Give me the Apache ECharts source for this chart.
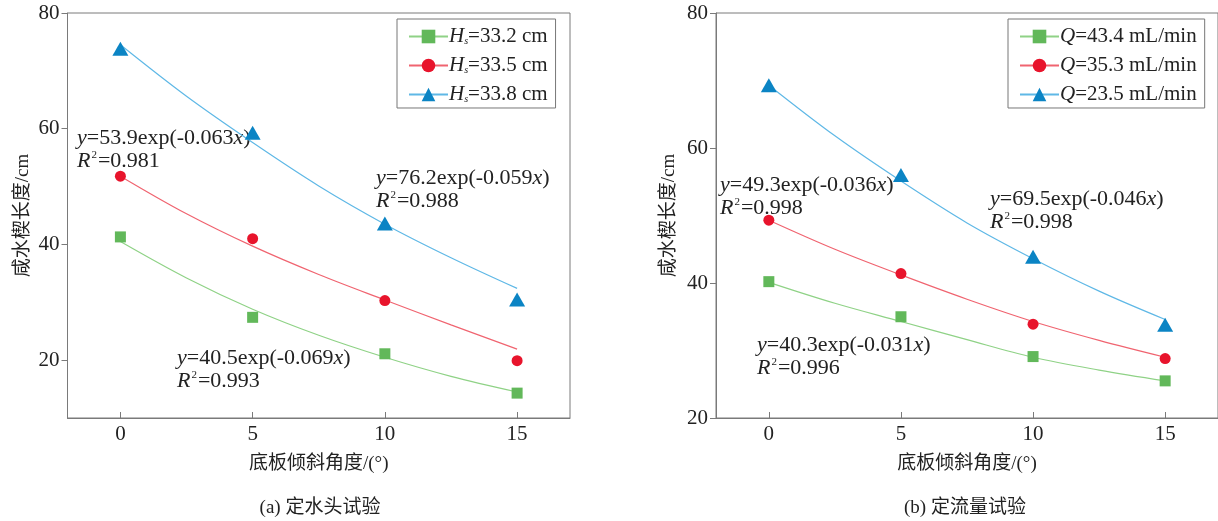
<!DOCTYPE html>
<html><head><meta charset="utf-8">
<script src="https://cdn.jsdelivr.net/npm/echarts@6/dist/echarts.min.js"></script>
<style>html,body{margin:0;padding:0;background:#fff}#c{width:1218px;height:521px}</style>
</head><body><div id="c"></div>
<script>
// ---------- data ----------
const angles = [0, 5, 10, 15];
const curveX = [0, 2.5, 5, 7.5, 10, 12.5, 15];
const xTicks = [0, 5, 10, 15];
const yTicksA = [20, 40, 60, 80];
const yTicksB = [20, 40, 60, 80];

// panel (a) constant head
const aLegend = ['33.2 cm', '33.5 cm', '33.8 cm'];
const aGreen = [41.3, 27.4, 21.1, 14.3];
const aRed = [51.8, 41.0, 30.3, 19.9];
const aBlue = [73.8, 59.3, 43.6, 30.5];
const aGreenFit = [40.5, 34.2, 28.8, 24.3, 20.5, 17.2, 14.5];
const aRedFit = [51.8, 45.3, 39.7, 34.8, 30.4, 26.1, 21.9];
const aBlueFit = [74.5, 65.6, 57.6, 50.1, 43.5, 37.7, 32.4];
const aEq = [['53.9', '-0.063', '0.981'], ['76.2', '-0.059', '0.988'], ['40.5', '-0.069', '0.993']];

// panel (b) constant flow
const bLegend = ['43.4 mL/min', '35.3 mL/min', '23.5 mL/min'];
const bGreen = [40.2, 35.0, 29.1, 25.5];
const bRed = [49.3, 41.4, 33.9, 28.8];
const bBlue = [69.3, 56.0, 43.9, 33.8];
const bGreenFit = [40.1, 37.0, 34.3, 31.6, 29.0, 27.1, 25.5];
const bRedFit = [49.3, 45.0, 41.2, 37.6, 34.3, 31.5, 29.0];
const bBlueFit = [69.3, 61.8, 55.1, 48.9, 43.6, 38.8, 34.6];
const bEq = [['49.3', '-0.036', '0.998'], ['69.5', '-0.046', '0.998'], ['40.3', '-0.031', '0.996']];

const xTitle = '底板倾斜角度/(°)';
const yTitle = '咸水楔长度/cm';
const captions = ['(a) 定水头试验', '(b) 定流量试验'];

// ---------- style ----------
const SERIF = '"Liberation Serif","Noto Sans CJK SC",serif';
const MIX = '"Liberation Serif","Noto Sans CJK SC",serif';
const AX = '#7a7a7a';
const TXT = '#222';
const mk = {
  g: {color: '#62b85a', line: '#8fd286', sym: 'rect', size: 11},
  r: {color: '#e8142c', line: '#f06470', sym: 'circle', size: 11},
  b: {color: '#0b84c4', line: '#5fb8e6', sym: 'triangle', size: [16, 14]}
};
const pair = (xs, ys) => xs.map((x, i) => [x, ys[i]]);

const richEq = {
  i: {fontFamily: SERIF, fontSize: 22, fontStyle: 'italic', color: TXT},
  n: {fontFamily: SERIF, fontSize: 22, color: TXT},
  sup: {fontFamily: SERIF, fontSize: 11, color: TXT, verticalAlign: 'top', padding: [0, 1, 10, 1]}
};

function xAxis(gi) {
  return {
    gridIndex: gi, type: 'value', min: -2, max: 17, interval: 1,
    axisLine: {onZero: false, lineStyle: {color: AX, width: 1}},
    axisTick: {inside: true, length: 6, customValues: xTicks, lineStyle: {color: AX}},
    axisLabel: {customValues: xTicks, margin: 6, fontFamily: SERIF, fontSize: 21, color: TXT},
    splitLine: {show: false},
    name: xTitle, nameLocation: 'middle', nameGap: 37,
    nameTextStyle: {fontFamily: MIX, fontSize: 19, color: TXT}
  };
}
function yAxis(gi, min, ticks, gap) {
  return {
    gridIndex: gi, type: 'value', min: min, max: 80, interval: 10,
    axisLine: {show: true, onZero: false, lineStyle: {color: AX, width: 1}},
    axisTick: {show: true, inside: false, length: 6, customValues: ticks, lineStyle: {color: AX}},
    axisLabel: {customValues: ticks, margin: 8, fontFamily: SERIF, fontSize: 21, color: TXT},
    splitLine: {show: false},
    name: yTitle, nameLocation: 'middle', nameGap: gap, nameRotate: 90,
    nameTextStyle: {fontFamily: MIX, fontSize: 19, color: TXT}
  };
}
function fitSeries(name, gi, ys, k) {
  return {
    type: 'line', name: name, xAxisIndex: gi, yAxisIndex: gi,
    data: pair(curveX, ys), smooth: 0.35, showSymbol: false,
    symbol: k.sym, symbolSize: k.size,
    itemStyle: {color: k.color},
    lineStyle: {color: k.line, width: 1.2},
    silent: true, z: 2
  };
}
function ptSeries(gi, ys, k) {
  return {
    type: 'scatter', xAxisIndex: gi, yAxisIndex: gi,
    data: pair(angles, ys), symbol: k.sym, symbolSize: k.size,
    itemStyle: {color: k.color, opacity: 1}, z: 3, silent: true
  };
}
function legendCfg(names, left, variable, padding) {
  return {
    orient: 'vertical', left: left, top: 19,
    data: names.map(n => ({name: n})),
    itemWidth: 39, itemHeight: 17, itemGap: 8,
    borderColor: '#777', borderWidth: 1, padding: padding,
    formatter: n => variable === 'H' ? '{i|H}{sub|s}{n|=' + n.slice(1) + '}' : '{i|Q}{n|=' + n.slice(1) + '}',
    textStyle: {padding: [0, 0, 0, -4], rich: {
      i: {fontFamily: SERIF, fontSize: 21, fontStyle: 'italic', color: TXT, lineHeight: 20},
      n: {fontFamily: SERIF, fontSize: 21, color: TXT, lineHeight: 20},
      sub: {fontFamily: SERIF, fontSize: 10, fontStyle: 'italic', color: TXT, verticalAlign: 'bottom', lineHeight: 20, padding: [10, 0, 0, 0]}
    }}
  };
}
function eqText(x, y, e) {
  return [
    {type: 'text', x: x, y: y, style: {text: '{i|y}{n|=' + e[0] + 'exp(' + e[1] + '}{i|x}{n|)}', rich: richEq, verticalAlign: 'middle', fill: TXT}},
    {type: 'text', x: x, y: y + 23, style: {text: '{i|R}{sup|2}{n|=' + e[2] + '}', rich: richEq, verticalAlign: 'middle', fill: TXT}}
  ];
}

const chart = echarts.init(document.getElementById('c'), null, {renderer: 'canvas'});
chart.setOption({
  animation: false,
  backgroundColor: '#fff',
  grid: [
    {left: 67.5, top: 13, width: 502.5, height: 405, show: true, borderColor: AX, borderWidth: 1, backgroundColor: 'transparent'},
    {left: 716, top: 13, width: 502.5, height: 405, show: true, borderColor: AX, borderWidth: 1, backgroundColor: 'transparent'}
  ],
  xAxis: [xAxis(0), xAxis(1)],
  yAxis: [yAxis(0, 10, yTicksA, 35), yAxis(1, 20, yTicksB, 37)],
  legend: [
    legendCfg(aLegend.map(s => 'A' + s), 397, 'H', [7, 8, 3, 11]),
    legendCfg(bLegend.map(s => 'B' + s), 1008, 'Q', [7, 8, 3, 11])
  ],
  series: [
    fitSeries('A' + aLegend[0], 0, aGreenFit, mk.g),
    fitSeries('A' + aLegend[1], 0, aRedFit, mk.r),
    fitSeries('A' + aLegend[2], 0, aBlueFit, mk.b),
    ptSeries(0, aGreen, mk.g), ptSeries(0, aRed, mk.r), ptSeries(0, aBlue, mk.b),
    fitSeries('B' + bLegend[0], 1, bGreenFit, mk.g),
    fitSeries('B' + bLegend[1], 1, bRedFit, mk.r),
    fitSeries('B' + bLegend[2], 1, bBlueFit, mk.b),
    ptSeries(1, bGreen, mk.g), ptSeries(1, bRed, mk.r), ptSeries(1, bBlue, mk.b)
  ],
  graphic: [
    ...eqText(77, 138, aEq[0]),
    ...eqText(376, 178, aEq[1]),
    ...eqText(177, 358, aEq[2]),
    ...eqText(720, 185, bEq[0]),
    ...eqText(990, 199, bEq[1]),
    ...eqText(757, 345, bEq[2]),
    {type: 'text', x: 320, y: 508, style: {text: captions[0], font: '19px ' + MIX, fill: TXT, align: 'center', verticalAlign: 'middle'}},
    {type: 'text', x: 965, y: 508, style: {text: captions[1], font: '19px ' + MIX, fill: TXT, align: 'center', verticalAlign: 'middle'}}
  ]
});
</script></body></html>
